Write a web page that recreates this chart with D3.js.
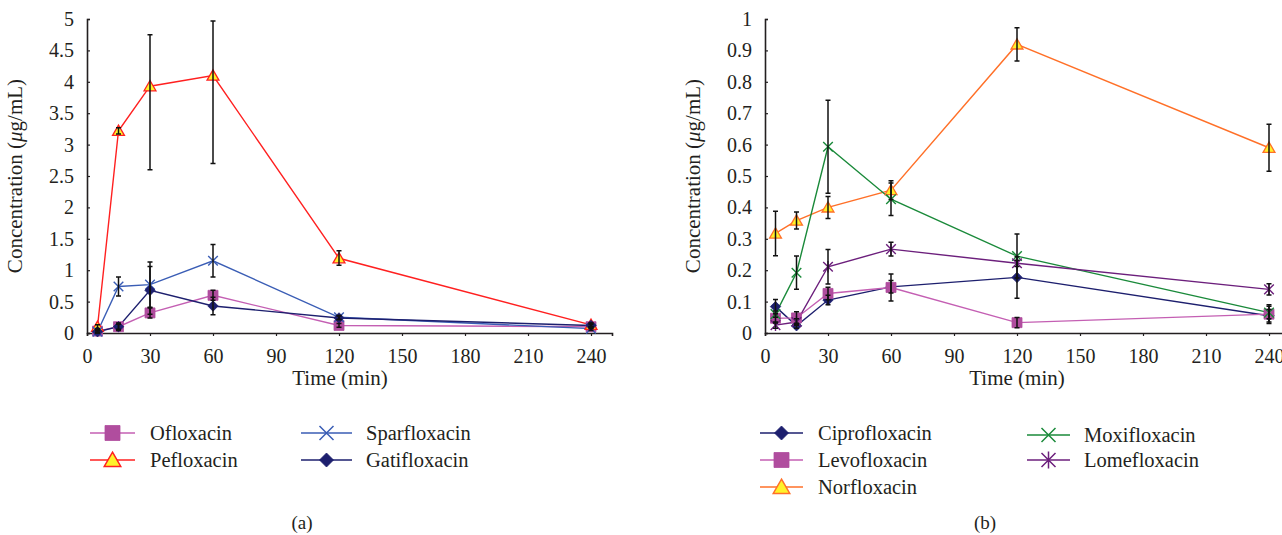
<!DOCTYPE html>
<html><head><meta charset="utf-8">
<script src="https://cdn.jsdelivr.net/npm/d3@7"></script>
<style>
html,body{margin:0;padding:0;background:#fff;}
svg text{font-family:"Liberation Serif","DejaVu Serif",serif;fill:#231f20;}
</style></head>
<body><svg id="chart" width="1282" height="535"></svg>
<script>
// ---------- data ----------
const times = [5, 15, 30, 60, 120, 240];
const xTicks = [0, 30, 60, 90, 120, 150, 180, 210, 240];
const yTicksA = [0, 0.5, 1, 1.5, 2, 2.5, 3, 3.5, 4, 4.5, 5];
const yTicksB = [0, 0.1, 0.2, 0.3, 0.4, 0.5, 0.6, 0.7, 0.8, 0.9, 1];

// panel (a)
const ofloxacin      = [0.03, 0.10, 0.32, 0.60, 0.12, 0.10];
const ofloxacinErr   = [0.02, 0.04, 0.08, 0.08, 0.03, 0.03];
const pefloxacin     = [0.10, 3.22, 3.93, 4.10, 1.19, 0.13];
const pefloxacinErrUp   = [0.03, 0.05, 0.82, 0.87, 0.12, 0.03];
const pefloxacinErrDown = [0.03, 0.05, 1.33, 1.40, 0.11, 0.03];
const sparfloxacin   = [0.02, 0.74, 0.77, 1.15, 0.25, 0.07];
const sparfloxacinErr= [0.02, 0.15, 0.36, 0.26, 0.03, 0.03];
const gatifloxacin   = [0.02, 0.10, 0.68, 0.43, 0.24, 0.12];
const gatifloxacinErr= [0.02, 0.06, 0.38, 0.14, 0.03, 0.03];

// panel (b)
const ciprofloxacin    = [0.084, 0.023, 0.105, 0.147, 0.177, 0.055];
const ciprofloxacinErr = [0.023, 0.008, 0.015, 0.020, 0.066, 0.020];
const levofloxacin     = [0.047, 0.048, 0.126, 0.145, 0.033, 0.060];
const levofloxacinErr  = [0.015, 0.020, 0.020, 0.043, 0.016, 0.030];
const norfloxacin      = [0.317, 0.358, 0.400, 0.455, 0.919, 0.590];
const norfloxacinErr   = [0.071, 0.027, 0.035, 0.030, 0.053, 0.075];
const moxifloxacin     = [0.060, 0.192, 0.593, 0.426, 0.245, 0.065];
const moxifloxacinErr  = [0.010, 0.053, 0.148, 0.052, 0.070, 0.020];
const lomefloxacin     = [0.025, 0.035, 0.211, 0.267, 0.222, 0.139];
const lomefloxacinErr  = [0.010, 0.010, 0.055, 0.022, 0.010, 0.018];

const seriesA = [
  {name:"Ofloxacin", values:ofloxacin, up:ofloxacinErr, down:ofloxacinErr, line:"#c45fb3", fill:"#b04d9e", stroke:"#b04d9e", marker:"square"},
  {name:"Pefloxacin", values:pefloxacin, up:pefloxacinErrUp, down:pefloxacinErrDown, line:"#ff2020", fill:"#fff22a", stroke:"#ff2020", marker:"triangle"},
  {name:"Sparfloxacin", values:sparfloxacin, up:sparfloxacinErr, down:sparfloxacinErr, line:"#3a5db5", fill:"none", stroke:"#3a5db5", marker:"x"},
  {name:"Gatifloxacin", values:gatifloxacin, up:gatifloxacinErr, down:gatifloxacinErr, line:"#1d1f6e", fill:"#1d1f6e", stroke:"#1d1f6e", marker:"diamond"}
];
const seriesB = [
  {name:"Ciprofloxacin", values:ciprofloxacin, up:ciprofloxacinErr, down:ciprofloxacinErr, line:"#1d1f6e", fill:"#1d1f6e", stroke:"#1d1f6e", marker:"diamond"},
  {name:"Levofloxacin", values:levofloxacin, up:levofloxacinErr, down:levofloxacinErr, line:"#c45fb3", fill:"#b04d9e", stroke:"#b04d9e", marker:"square"},
  {name:"Norfloxacin", values:norfloxacin, up:norfloxacinErr, down:norfloxacinErr, line:"#ff7028", fill:"#fff22a", stroke:"#ff7028", marker:"triangle"},
  {name:"Moxifloxacin", values:moxifloxacin, up:moxifloxacinErr, down:moxifloxacinErr, line:"#1a8a3a", fill:"none", stroke:"#1a8a3a", marker:"x"},
  {name:"Lomefloxacin", values:lomefloxacin, up:lomefloxacinErr, down:lomefloxacinErr, line:"#6c1f7c", fill:"none", stroke:"#6c1f7c", marker:"star"}
];

// ---------- drawing ----------
const svg = d3.select("#chart");
svg.append("rect").attr("width",1282).attr("height",535).attr("fill","#fff");

function markerPath(type, r){
  switch(type){
    case "square": return `M${-r},${-r}h${2*r}v${2*r}h${-2*r}Z`;
    case "diamond": return `M0,${-r}L${r},0L0,${r}L${-r},0Z`;
    case "triangle": return `M0,${-r*1.05}L${r*1.1},${r*0.85}L${-r*1.1},${r*0.85}Z`;
    case "x": return `M${-r},${-r}L${r},${r}M${-r},${r}L${r},${-r}`;
    case "star": return `M${-r},${-r}L${r},${r}M${-r},${r}L${r},${-r}M0,${-r*1.2}L0,${r*1.2}`;
  }
}

function drawPanel(cfg){
  const x = d3.scaleLinear().domain([0,250]).range([cfg.x0, cfg.x0 + 525]);
  const y = d3.scaleLinear().domain([0, cfg.yMax]).range([333, 19]);
  const g = svg.append("g");

  const fmt = d => String(+d.toFixed(1));
  const ya = g.append("g").attr("transform",`translate(${cfg.x0},0)`)
    .call(d3.axisLeft(y).tickValues(cfg.yTicks).tickSize(-3).tickPadding(13).tickFormat(fmt));
  const xa = g.append("g").attr("transform",`translate(0,333)`)
    .call(d3.axisBottom(x).tickValues(xTicks).tickSize(3).tickPadding(13).tickFormat(fmt));
  [ya, xa].forEach(a => {
    a.select(".domain").attr("stroke","#231f20").attr("stroke-width",1.6);
    a.selectAll(".tick line").attr("stroke","#231f20").attr("stroke-width",1.2);
    a.selectAll(".tick text").attr("font-size",20).attr("font-family","Liberation Serif").attr("fill","#231f20");
  });

  // axis titles
  const yl = g.append("text").attr("transform",`translate(${cfg.x0-65},176) rotate(-90)`)
    .attr("text-anchor","middle").attr("font-size",21);
  yl.append("tspan").text("Concentration (");
  yl.append("tspan").attr("font-style","italic").text("μ");
  yl.append("tspan").text("g/mL)");
  g.append("text").attr("x", cfg.xLabel).attr("y", 385).attr("text-anchor","middle")
    .attr("font-size",21).text("Time (min)");

  const line = d3.line().x(d => x(d.t)).y(d => y(d.v));
  cfg.series.forEach(s => {
    const pts = times.map((t,i) => ({t, v:s.values[i], up:s.up[i], down:s.down[i]}));
    g.append("path").datum(pts).attr("d", line).attr("fill","none")
      .attr("stroke", s.line).attr("stroke-width",1.4);
    s.pts = pts;
  });
  cfg.series.forEach(s => {
    const r = s.marker==="square" ? 5 : s.marker==="triangle" ? 5.4 : s.marker==="diamond" ? 5.2 : 4.8;
    g.append("g").selectAll("path").data(s.pts).join("path")
      .attr("transform", d => `translate(${x(d.t)},${y(d.v)})`)
      .attr("d", markerPath(s.marker, r))
      .attr("fill", s.fill).attr("stroke", s.stroke)
      .attr("stroke-width", s.fill==="none" ? 1.4 : (s.marker==="triangle"?1.3:0.8));
  });
  // error bars
  cfg.series.forEach(s => {
    const eb = g.append("g").attr("stroke","#111").attr("stroke-width",1.5).attr("fill","none");
    eb.selectAll("path").data(s.pts).join("path")
      .attr("d", d => {
        const cx = x(d.t), yt = y(d.v + d.up), yb = y(d.v - d.down);
        return `M${cx},${yt}V${yb}M${cx-2.5},${yt}H${cx+2.5}M${cx-2.5},${yb}H${cx+2.5}`;
      });
  });

  // legend
  cfg.legend.forEach((it, i) => {
    const s = cfg.series[it.idx];
    const lg = g.append("g").attr("transform",`translate(${it.x},${it.y})`);
    lg.append("line").attr("x1",0).attr("x2",it.w).attr("y1",0).attr("y2",0)
      .attr("stroke", s.line).attr("stroke-width",1.5);
    const r = s.marker==="square" ? 7.5 : s.marker==="triangle" ? 7.5 : 7;
    lg.append("path").attr("transform",`translate(${it.w/2},0)`)
      .attr("d", markerPath(s.marker, r)).attr("fill", s.fill).attr("stroke", s.stroke)
      .attr("stroke-width", s.fill==="none" ? 1.5 : (s.marker==="triangle"?1.5:0.8));
    lg.append("text").attr("x", it.tx).attr("y", 7).attr("font-size",20.5).text(s.name);
  });
  g.append("text").attr("x", cfg.capX).attr("y", 529).attr("text-anchor","middle")
    .attr("font-size",19).text(cfg.caption);
}

drawPanel({
  x0: 87, yMax: 5, yTicks: yTicksA, series: seriesA, xLabel: 340, caption: "(a)", capX: 302,
  legend: [
    {idx:0, x:90, y:433, w:45, tx:60},
    {idx:1, x:90, y:460, w:45, tx:60},
    {idx:2, x:301, y:433, w:51, tx:65},
    {idx:3, x:301, y:460, w:51, tx:65}
  ]
});
drawPanel({
  x0: 765, yMax: 1, yTicks: yTicksB, series: seriesB, xLabel: 1017, caption: "(b)", capX: 985,
  legend: [
    {idx:0, x:760, y:433, w:43, tx:58},
    {idx:1, x:760, y:460, w:43, tx:58},
    {idx:2, x:760, y:487, w:43, tx:58},
    {idx:3, x:1027, y:435, w:43, tx:57},
    {idx:4, x:1027, y:460, w:43, tx:57}
  ]
});
</script></body></html>
